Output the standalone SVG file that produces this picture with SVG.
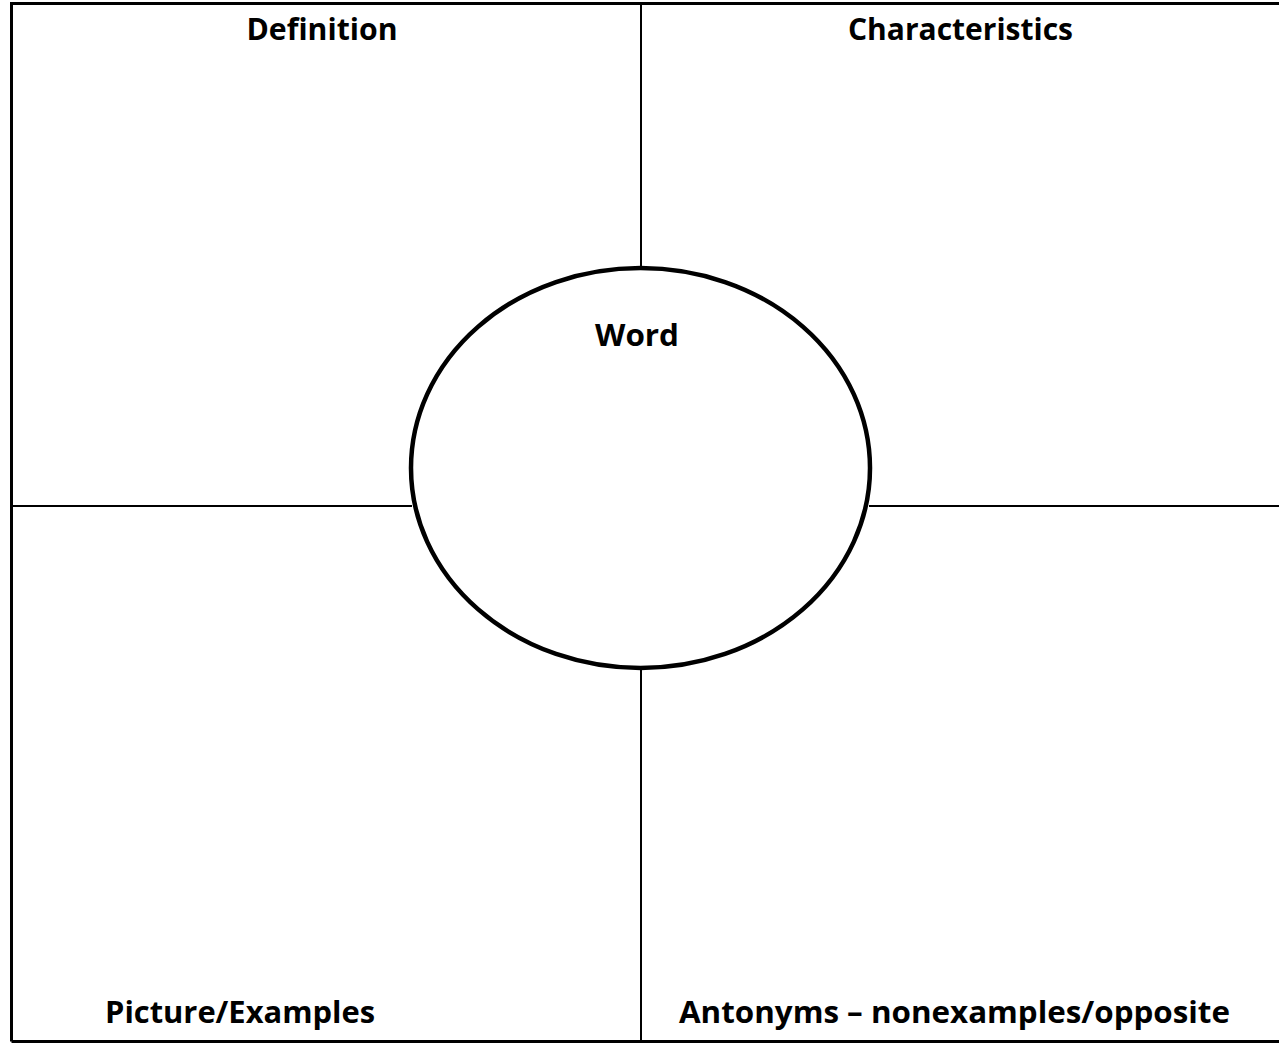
<svg xmlns="http://www.w3.org/2000/svg" width="1279" height="1043" viewBox="0 0 1279 1043">
<style>
.lbl{font-family:"Open Sans","Liberation Sans",sans-serif;font-weight:bold;font-size:30px;fill:#000;}
.ln{stroke:#000;stroke-width:2;fill:none;}
.frame{stroke:#000;stroke-width:3;fill:none;}
</style>
<rect width="1279" height="1043" fill="#fff"/>
<g id="connectors">
<path class="frame" d="M11.5,1041.5 V3.5 H1279 M11.5,1041.5 H1279"/>
<line class="ln" x1="641" y1="3" x2="641" y2="268"/>
<line class="ln" x1="641" y1="668" x2="641" y2="1041"/>
<line class="ln" x1="11" y1="506" x2="412" y2="506"/>
<line class="ln" x1="869" y1="506" x2="1279" y2="506"/>
</g>
<g id="definition"><text class="lbl" x="322" y="39.5" text-anchor="middle" textLength="151" lengthAdjust="spacingAndGlyphs">Definition</text></g>
<g id="characteristics"><text class="lbl" x="960.5" y="39.5" text-anchor="middle" textLength="225" lengthAdjust="spacingAndGlyphs">Characteristics</text></g>
<g id="word">
<ellipse cx="640.5" cy="468" rx="229.5" ry="200" fill="#fff" stroke="#000" stroke-width="4.5"/>
<text class="lbl" x="637" y="346" text-anchor="middle" textLength="84" lengthAdjust="spacingAndGlyphs">Word</text>
</g>
<g id="picture"><text class="lbl" x="240" y="1022.5" text-anchor="middle" textLength="270" lengthAdjust="spacingAndGlyphs">Picture/Examples</text></g>
<g id="antonyms"><text class="lbl" x="954.5" y="1022.5" text-anchor="middle" textLength="551" lengthAdjust="spacingAndGlyphs">Antonyms – nonexamples/opposite</text></g>
</svg>
